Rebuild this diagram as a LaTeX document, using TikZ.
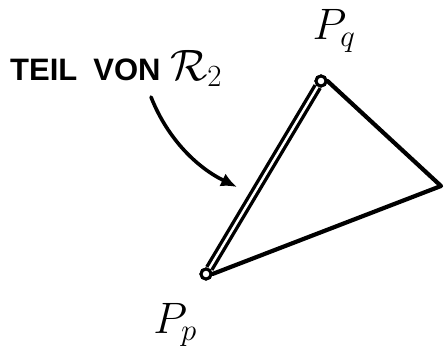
\documentclass[tikz,border=0pt]{standalone}
\usepackage{fix-cm}
\usepackage{fontspec}
\setsansfont{Liberation Sans}
\usetikzlibrary{arrows.meta}
\begin{document}
\begin{tikzpicture}[x=1pt,y=-1pt,
  vtx/.style={circle,draw,line width=3pt,minimum size=10pt,inner sep=0pt,fill=white},
  edge/.style={line width=4.2pt,line cap=round,line join=round},
  dbl/.style={double,double distance=2.4pt,line width=3.4pt},
  lbl/.style={inner sep=0pt,font=\fontsize{44}{46}\selectfont}]
\useasboundingbox (0,0) rectangle (444,359);
\node[vtx] (pp) at (206,274) {};
\node[vtx] (pq) at (321,81) {};
\coordinate (pr) at (441,186);
\draw[dbl] (pp) -- (pq);
\draw[edge] (pq.east) -- (pr) -- (pp.east);
\node[vtx] at (pp) {};
\node[vtx] at (pq) {};
\node[inner sep=0pt,anchor=base west] (teil) at (10,80) {\sffamily\bfseries\fontsize{31}{33}\selectfont TEIL\hspace{16pt}VON};
\node[lbl,anchor=base west] (r2) at (170,80) {$\mathcal{R}_2$};
\node[lbl] (lq) at (334,31) {$P_q$};
\node[lbl] (lp) at (175,325) {$P_p$};
\coordinate (as) at (151,97);
\coordinate (ae) at (237,187);
\draw[line width=3.6pt,line cap=round,-{Latex[length=16pt,width=14pt]}] (as) .. controls (168,140) and (198,168) .. (ae);
\end{tikzpicture}
\end{document}
